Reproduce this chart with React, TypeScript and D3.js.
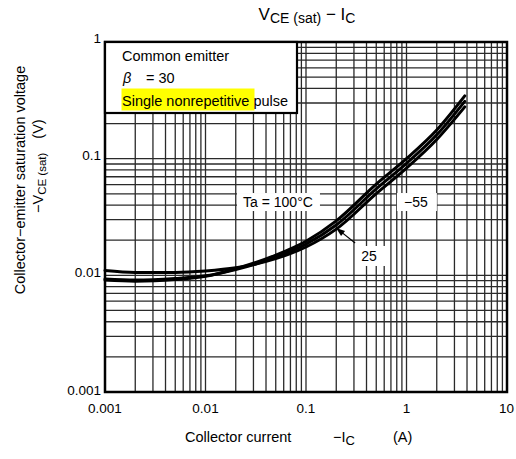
import React from "react";
import * as d3 from "d3";

// collector current -Ic (A)
const current = [0.001, 0.002, 0.005, 0.01, 0.02, 0.05, 0.1, 0.2, 0.5, 1, 2, 3.8];
// -Vce(sat) (V) per ambient temperature
const vTa100 = [0.0091, 0.0089, 0.0092, 0.0098, 0.0114, 0.0149, 0.0196, 0.0293, 0.0605, 0.1, 0.176, 0.345];
const vTa25 = [0.0093, 0.0091, 0.0094, 0.0099, 0.0112, 0.0143, 0.0185, 0.027, 0.055, 0.091, 0.16, 0.31];
const vTaM55 = [0.011, 0.0106, 0.0106, 0.0109, 0.0116, 0.0139, 0.0175, 0.0249, 0.0502, 0.083, 0.146, 0.278];

const xTicks = [0.001, 0.01, 0.1, 1, 10];
const xTickLabels = ["0.001", "0.01", "0.1", "1", "10"];
const yTicks = [0.001, 0.01, 0.1, 1];
const yTickLabels = ["0.001", "0.01", "0.1", "1"];

const W = 516;
const H = 459;
const margin = { top: 42, right: 9, bottom: 67, left: 105 };
const FONT = "'Liberation Sans', Arial, sans-serif";

export default function App() {
  const x = d3.scaleLog().domain([0.001, 10]).range([margin.left, W - margin.right]);
  const y = d3.scaleLog().domain([0.001, 1]).range([H - margin.bottom, margin.top]);

  // 1..9 per decade grid
  const gridX: number[] = [];
  const gridY: number[] = [];
  [0.001, 0.01, 0.1, 1].forEach((dec) => {
    for (let k = 1; k < 10; k++) gridX.push(dec * k);
  });
  [0.001, 0.01, 0.1].forEach((dec) => {
    for (let k = 1; k < 10; k++) gridY.push(dec * k);
  });

  const line = d3
    .line<number>()
    .x((_, i) => x(current[i]))
    .y((v) => y(v))
    .curve(d3.curveMonotoneX);

  const series = [vTa100, vTa25, vTaM55];

  const [x0, x1] = x.range();
  const [y0, y1] = y.range();

  // annotation anchors in data units
  const ta100 = { x: x(0.0526), y: y(0.0425) };
  const ta55 = { x: x(1.24), y: y(0.0425) };
  const ta25 = { x: x(0.424), y: y(0.01465) };
  const arrowTip = { x: x(0.199), y: y(0.0255) };
  const arrowTail = { x: x(0.308), y: y(0.0189) };
  const ang = Math.atan2(arrowTip.y - arrowTail.y, arrowTip.x - arrowTail.x);
  const ah = 9;
  const aw = 3.2;
  const head = [
    [arrowTip.x, arrowTip.y],
    [arrowTip.x - ah * Math.cos(ang) + aw * Math.sin(ang), arrowTip.y - ah * Math.sin(ang) - aw * Math.cos(ang)],
    [arrowTip.x - ah * Math.cos(ang) - aw * Math.sin(ang), arrowTip.y - ah * Math.sin(ang) + aw * Math.cos(ang)],
  ];

  return (
    <div style={{ position: "absolute", left: 0, top: 0 }}>
      <svg width={W} height={H} style={{ display: "block", background: "#fff" }} fontFamily={FONT}>
        {/* title */}
        <text x={307} y={20} textAnchor="middle" fontSize={17}>
          V<tspan fontSize={14} dy={3}>CE (sat)</tspan>
          <tspan dy={-3} fontSize={17}> − I</tspan>
          <tspan fontSize={14} dy={3}>C</tspan>
        </text>

        {/* grid */}
        <g stroke="#2a2a2a" strokeWidth={1.3}>
          {gridX.map((v) => (
            <line key={"gx" + v} x1={x(v)} x2={x(v)} y1={y0} y2={y1} />
          ))}
          {gridY.map((v) => (
            <line key={"gy" + v} x1={x0} x2={x1} y1={y(v)} y2={y(v)} />
          ))}
        </g>

        {/* curves */}
        <g fill="none" stroke="#000" strokeWidth={3} strokeLinecap="round">
          {series.map((s, i) => (
            <path key={i} d={line(s) || ""} />
          ))}
        </g>

        {/* frame */}
        <rect x={x0} y={y1} width={x1 - x0} height={y0 - y1} fill="none" stroke="#000" strokeWidth={2.5} />

        {/* legend box */}
        <g>
          <rect x={x0} y={y1} width={192} height={71} fill="#fff" stroke="#000" strokeWidth={2.2} />
          <text x={122} y={61} fontSize={14.5}>Common emitter</text>
          <text x={123} y={83} fontSize={14.5} fontStyle="italic">β</text>
          <text x={146} y={83} fontSize={14.5}>= 30</text>
          <rect x={121.5} y={88.5} width={133} height={22} fill="#ffff00" />
          <text x={122} y={106} fontSize={14.5}>Single nonrepetitive pulse</text>
        </g>

        {/* temperature labels */}
        <rect x={ta100.x - 41} y={ta100.y - 9} width={83} height={18} fill="#fff" />
        <text x={ta100.x} y={ta100.y} dy="0.36em" textAnchor="middle" fontSize={14}>Ta = 100°C</text>
        <rect x={ta55.x - 19} y={ta55.y - 9} width={40} height={18} fill="#fff" />
        <text x={ta55.x} y={ta55.y} dy="0.36em" textAnchor="middle" fontSize={14}>−55</text>
        <rect x={ta25.x - 14} y={ta25.y - 10} width={30} height={20} fill="#fff" />
        <text x={ta25.x} y={ta25.y} dy="0.36em" textAnchor="middle" fontSize={14}>25</text>
        <line x1={arrowTail.x} y1={arrowTail.y} x2={arrowTip.x} y2={arrowTip.y} stroke="#000" strokeWidth={1.2} />
        <polygon points={head.map((p) => p.join(",")).join(" ")} fill="#000" />

        {/* tick labels */}
        {xTicks.map((t, i) => {
          const last = i === xTicks.length - 1;
          return (
            <text
              key={"xt" + t}
              x={last ? W - 2 : x(t)}
              y={413}
              textAnchor={last ? "end" : "middle"}
              fontSize={13.5}
            >
              {xTickLabels[i]}
            </text>
          );
        })}
        {yTicks.map((t, i) => (
          <text key={"yt" + t} x={x0 - 4} y={y(t)} dy={i === 0 ? "0.2em" : "0.1em"} textAnchor="end" fontSize={13.5}>
            {yTickLabels[i]}
          </text>
        ))}

        {/* axis titles */}
        <text x={185} y={442} fontSize={14.5}>Collector current</text>
        <text x={333} y={442} fontSize={14.5}>
          −I<tspan fontSize={13} dy={3}>C</tspan>
        </text>
        <text x={393} y={442} fontSize={14.5}>(A)</text>

        <text transform="translate(25,180) rotate(-90)" textAnchor="middle" fontSize={14.5}>
          Collector−emitter saturation voltage
        </text>
        <text transform="translate(43,213) rotate(-90)" fontSize={14.5}>
          −V<tspan fontSize={11.5} dy={3}>CE (sat)</tspan>
          <tspan dy={-3} dx={14}>(V)</tspan>
        </text>
      </svg>
    </div>
  );
}
